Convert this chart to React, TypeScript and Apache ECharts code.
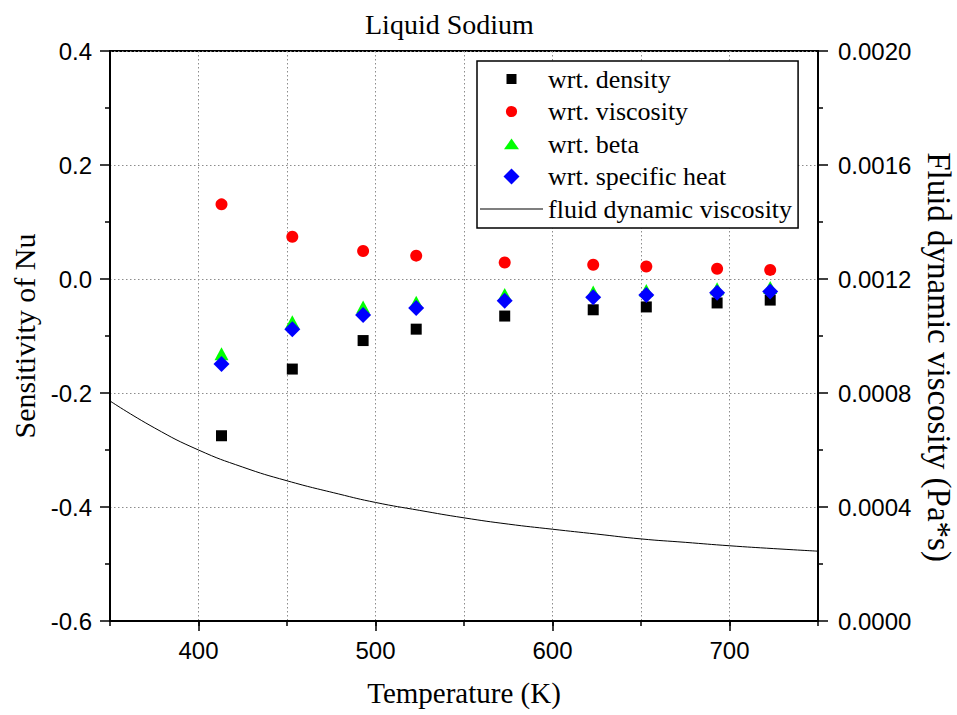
import React, { useEffect, useRef } from "react";
import * as echarts from "echarts";

// Sample temperatures (K) of the sensitivity points
const temperatures = [413, 453, 493, 523, 573, 623, 653, 693, 723];
// Sensitivity of Nu with respect to each property
const wrtDensity = [-0.275, -0.158, -0.108, -0.088, -0.065, -0.054, -0.049, -0.042, -0.037];
const wrtViscosity = [0.131, 0.074, 0.049, 0.041, 0.029, 0.025, 0.022, 0.018, 0.016];
const wrtBeta = [-0.131, -0.075, -0.049, -0.041, -0.027, -0.023, -0.02, -0.017, -0.015];
const wrtSpecificHeat = [-0.149, -0.088, -0.063, -0.051, -0.038, -0.032, -0.028, -0.024, -0.022];

// Fluid dynamic viscosity curve (Pa*s)
const lineTemperatures = [350, 375, 400, 425, 450, 479, 500, 525, 550, 575, 600, 625, 650, 675, 700, 725, 750];
const dynamicViscosity = [
  0.000772, 0.000678, 0.0006, 0.00054, 0.000492, 0.000446, 0.000416, 0.000388, 0.000362,
  0.00034, 0.000322, 0.000305, 0.000288, 0.000276, 0.000264, 0.000254, 0.000245,
];

// Tick positions
const xMajorTicks = [400, 500, 600, 700];

const pairs = (xs: number[], ys: number[]) => xs.map((x, i) => [x, ys[i]]);

export default function App() {
  const ref = useRef<HTMLDivElement>(null);

  useEffect(() => {
    document.body.style.margin = "0";
    const chart = echarts.init(ref.current!, null, { renderer: "svg" });
    const serif = "'Liberation Serif', 'Times New Roman', serif";
    const sans = "'Liberation Sans', Arial, sans-serif";
    const axisLine = { show: true, onZero: false, lineStyle: { color: "#000", width: 2 } };
    const tickStyle = { color: "#000", width: 1.5 };
    const gridLine = { show: true, lineStyle: { color: "#8c8c8c", width: 1, type: [1.5, 2.5] } };
    const labelStyle = { color: "#000", fontFamily: sans, fontSize: 24 };

    const option: any = {
      animation: false,
      backgroundColor: "#fff",
      title: {
        text: "Liquid Sodium",
        left: 365,
        top: 10,
        padding: 0,
        textStyle: { fontFamily: serif, fontSize: 28, fontWeight: "normal", color: "#000" },
      },
      grid: {
        left: 110,
        right: 139,
        top: 51,
        bottom: 94,
        containLabel: false,
        outerBoundsMode: "none",
        show: true,
        borderColor: "#000",
        borderWidth: 2,
        backgroundColor: "transparent",
      },
      legend: {
        orient: "vertical",
        left: 477,
        top: 61,
        padding: [5, 6, 6, 3],
        itemWidth: 63,
        itemHeight: 16,
        itemGap: 6.5,
        symbolKeepAspect: true,
        borderColor: "#000",
        borderWidth: 1.5,
        backgroundColor: "#fff",
        selectedMode: false,
        textStyle: { fontFamily: serif, fontSize: 26, color: "#000" },
        data: [
          { name: "wrt. density", icon: "path://M0,0M16,16M3,3H13V13H3Z", symbolKeepAspect: true },
          {
            name: "wrt. viscosity",
            icon: "path://M0,0M16,16M8,2.4A5.6,5.6,0,1,1,8,13.6A5.6,5.6,0,1,1,8,2.4Z",
            symbolKeepAspect: true,
          },
          {
            name: "wrt. beta",
            icon: "path://M0,0M16,16M8,2.6L15.5,13.3L0.5,13.3Z",
            symbolKeepAspect: true,
          },
          { name: "wrt. specific heat", icon: "path://M8,0L16,8L8,16L0,8Z", symbolKeepAspect: true },
          { name: "fluid dynamic viscosity", icon: "path://M0,0H63V1H0Z", symbolKeepAspect: true },
        ],
      },
      xAxis: [
        {
          type: "value",
          min: 350,
          max: 750,
          interval: 50,
          position: "bottom",
          name: "Temperature (K)",
          nameLocation: "middle",
          nameGap: 57,
          nameTextStyle: { fontFamily: serif, fontSize: 29, color: "#000" },
          axisLine,
          axisTick: { show: true, length: 5, lineStyle: tickStyle },
          axisLabel: { ...labelStyle, customValues: xMajorTicks, margin: 17 },
          splitLine: gridLine,
        },
        {
          type: "value",
          min: 350,
          max: 750,
          position: "bottom",
          offset: 0,
          axisLine: { show: false, onZero: false },
          axisTick: { show: true, customValues: xMajorTicks, length: 10, lineStyle: tickStyle },
          axisLabel: { show: false },
          splitLine: { show: false },
        },
      ],
      yAxis: [
        {
          type: "value",
          min: -0.6,
          max: 0.4,
          interval: 0.2,
          position: "left",
          name: "Sensitivity of Nu",
          nameLocation: "middle",
          nameGap: 66,
          nameRotate: 90,
          nameTextStyle: { fontFamily: serif, fontSize: 30, color: "#000" },
          axisLine,
          axisTick: { show: true, length: 10, lineStyle: tickStyle },
          minorTick: { show: true, splitNumber: 2, length: 5, lineStyle: tickStyle },
          axisLabel: {
            ...labelStyle,
            margin: 18,
            formatter: (v: number) => (Math.abs(v) < 1e-9 ? "0.0" : v.toFixed(1)),
          },
          splitLine: gridLine,
        },
        {
          type: "value",
          min: 0,
          max: 0.002,
          interval: 0.0004,
          position: "right",
          name: "Fluid dynamic viscosity (Pa*s)",
          nameLocation: "middle",
          nameGap: 104,
          nameRotate: -90,
          nameTextStyle: { fontFamily: serif, fontSize: 33, color: "#000", padding: [0, 0, 0, 42] },
          axisLine,
          axisTick: { show: true, length: 10, lineStyle: tickStyle },
          minorTick: { show: true, splitNumber: 2, length: 5, lineStyle: tickStyle },
          axisLabel: {
            ...labelStyle,
            margin: 20,
            formatter: (v: number) => v.toFixed(4),
          },
          splitLine: { show: false },
        },
      ],
      series: [
        {
          type: "scatter",
          name: "wrt. density",
          xAxisIndex: 0,
          yAxisIndex: 0,
          symbol: "rect",
          symbolSize: 11,
          itemStyle: { color: "#000000", opacity: 1 },
          data: pairs(temperatures, wrtDensity),
        },
        {
          type: "scatter",
          name: "wrt. viscosity",
          xAxisIndex: 0,
          yAxisIndex: 0,
          symbol: "circle",
          symbolSize: 12,
          itemStyle: { color: "#ff0000", opacity: 1 },
          data: pairs(temperatures, wrtViscosity),
        },
        {
          type: "scatter",
          name: "wrt. beta",
          xAxisIndex: 0,
          yAxisIndex: 0,
          symbol: "triangle",
          symbolSize: [14, 13],
          itemStyle: { color: "#00ff00", opacity: 1 },
          data: pairs(temperatures, wrtBeta),
        },
        {
          type: "scatter",
          name: "wrt. specific heat",
          xAxisIndex: 0,
          yAxisIndex: 0,
          symbol: "diamond",
          symbolSize: [16, 16],
          itemStyle: { color: "#0000ff", opacity: 1 },
          data: pairs(temperatures, wrtSpecificHeat),
        },
        {
          type: "line",
          name: "fluid dynamic viscosity",
          xAxisIndex: 0,
          yAxisIndex: 1,
          symbol: "none",
          showSymbol: false,
          smooth: true,
          lineStyle: { color: "#000", width: 1 },
          itemStyle: { color: "#000" },
          data: pairs(lineTemperatures, dynamicViscosity),
        },
      ],
    };
    chart.setOption(option);
    return () => chart.dispose();
  }, []);

  return (
    <div
      ref={ref}
      style={{ position: "absolute", left: 0, top: 0, width: 957, height: 715 }}
    />
  );
}
